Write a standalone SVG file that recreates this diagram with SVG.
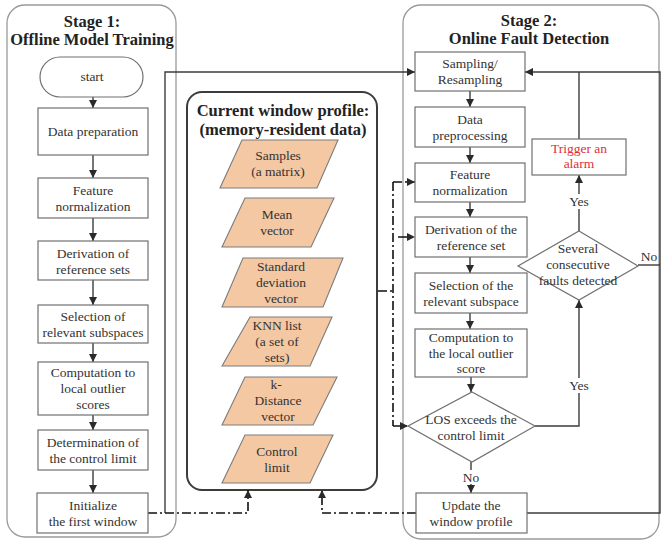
<svg xmlns="http://www.w3.org/2000/svg" width="661" height="544" viewBox="0 0 661 544" font-family="'Liberation Serif','DejaVu Serif',serif">
<defs>
<style>
text{font-family:'Liberation Serif','DejaVu Serif',serif;font-size:13.5px;fill:#333;text-anchor:middle}
.ttl{font-weight:bold;font-size:16.5px;fill:#222}
.red{fill:#e0303c}
.box{fill:#fff;stroke:#707070;stroke-width:1.2}
.cont{fill:none;stroke:#9a9a9a;stroke-width:1.3}
.mid{fill:none;stroke:#3c3c3c;stroke-width:2}
.para{fill:#f4c8a3;stroke:#7c7c7c;stroke-width:1.1}
.ln{fill:none;stroke:#3c3c3c;stroke-width:1.4}
.dd{fill:none;stroke:#111;stroke-width:1.6;stroke-dasharray:9 3 2 3}
.arr{marker-end:url(#ah)}
.lblbg{fill:#fff}
</style>
<marker id="ah" viewBox="0 0 10 10" refX="10" refY="5" markerWidth="8" markerHeight="8" markerUnits="userSpaceOnUse" orient="auto"><path d="M0,0 L10,5 L0,10 z" fill="#2a2a2a"/></marker>
</defs>
<rect width="661" height="544" fill="#fff"/>

<g id="stage1">
<rect class="cont" x="7" y="5" width="169" height="532" rx="18"/>
<text class="ttl" x="92" y="27">Stage 1:</text>
<text class="ttl" x="92" y="45">Offline Model Training</text>
</g>
<g id="stage2">
<rect class="cont" x="403" y="5" width="256" height="534" rx="18"/>
<text class="ttl" x="529" y="26">Stage 2:</text>
<text class="ttl" x="529" y="44">Online Fault Detection</text>
</g>
<g id="profile">
<rect class="mid" x="187" y="92" width="190" height="398" rx="15"/>
<text class="ttl" x="283" y="116">Current window profile:</text>
<text class="ttl" x="283" y="135">(memory-resident data)</text>
</g>

<g id="connectors">
<path class="ln arr" d="M93,97 V108"/>
<path class="ln arr" d="M93,155 V178"/>
<path class="ln arr" d="M93,218 V241"/>
<path class="ln arr" d="M93,280 V305"/>
<path class="ln arr" d="M93,343 V362"/>
<path class="ln arr" d="M93,415 V430"/>
<path class="ln arr" d="M93,470 V493"/>
<path class="ln arr" d="M165,513 V72 H415"/>
<path class="dd arr" d="M148,513 H248 V490"/>
<path class="dd arr" d="M416,513 H322 V490"/>
<path class="dd" d="M378,291 H393"/>
<path class="dd" d="M393,182 V426"/>
<path class="dd arr" d="M393,182 H415"/>
<path class="dd arr" d="M398,237 H415"/>
<path class="dd arr" d="M393,426 H408"/>
<path class="ln arr" d="M470,91 V107"/>
<path class="ln arr" d="M470,147 V163"/>
<path class="ln arr" d="M470,202 V217"/>
<path class="ln arr" d="M470,257 V273"/>
<path class="ln arr" d="M470,313 V329"/>
<path class="ln arr" d="M471,377 V392"/>
<path class="ln arr" d="M471,462 V493"/>
<path class="ln arr" d="M535,426 H579 V300"/>
<path class="ln arr" d="M579,231 V175"/>
<path class="ln" d="M579,139 V72"/>
<path class="ln arr" d="M527,513 H660 V72 H525"/>
<path class="ln" d="M638,265 H660"/>
<rect class="lblbg" x="461" y="470" width="20" height="14"/>
<text x="471" y="482">No</text>
<rect class="lblbg" x="566" y="194" width="26" height="15"/>
<text x="579" y="206">Yes</text>
<rect class="lblbg" x="566" y="378" width="26" height="15"/>
<text x="579" y="390">Yes</text>
<text x="649" y="261">No</text>
</g>

<g id="start"><rect class="box" x="40" y="57" width="103" height="40" rx="20"/><text x="92" y="81">start</text></g>
<g id="s1-prep"><rect class="box" x="38" y="108" width="110" height="47"/><text x="93" y="136">Data preparation</text></g>
<g id="s1-norm"><rect class="box" x="38" y="178" width="110" height="40"/><text x="93" y="195">Feature</text><text x="93" y="211">normalization</text></g>
<g id="s1-ref"><rect class="box" x="38" y="241" width="110" height="39"/><text x="93" y="258">Derivation of</text><text x="93" y="274">reference sets</text></g>
<g id="s1-sel"><rect class="box" x="38" y="305" width="110" height="38"/><text x="93" y="321">Selection of</text><text x="93" y="337">relevant subspaces</text></g>
<g id="s1-comp"><rect class="box" x="38" y="362" width="110" height="53"/><text x="93" y="377">Computation to</text><text x="93" y="393">local outlier</text><text x="93" y="409">scores</text></g>
<g id="s1-det"><rect class="box" x="38" y="430" width="110" height="40"/><text x="93" y="447">Determination of</text><text x="93" y="463">the control limit</text></g>
<g id="s1-init"><rect class="box" x="37" y="493" width="111" height="40"/><text x="93" y="510">Initialize</text><text x="93" y="526">the first window</text></g>

<g id="p-samples"><polygon class="para" points="242,140 338,140 317,188 220,188"/><text x="278" y="160">Samples</text><text x="278" y="176">(a matrix)</text></g>
<g id="p-mean"><polygon class="para" points="245,198 334,198 311,247 222,247"/><text x="277" y="219">Mean</text><text x="277" y="235">vector</text></g>
<g id="p-std"><polygon class="para" points="243,258 343,258 323,307 222,307"/><text x="281" y="271">Standard</text><text x="281" y="287">deviation</text><text x="281" y="303">vector</text></g>
<g id="p-knn"><polygon class="para" points="250,317 332,317 310,366 222,366"/><text x="277" y="330">KNN list</text><text x="277" y="346">(a set of</text><text x="277" y="362">sets)</text></g>
<g id="p-kdist"><polygon class="para" points="245,377 337,377 313,425 222,425"/><text x="276" y="389">k-</text><text x="278" y="405">Distance</text><text x="278" y="421">vector</text></g>
<g id="p-cl"><polygon class="para" points="245,435 333,435 310,483 222,483"/><text x="277" y="456">Control</text><text x="277" y="472">limit</text></g>

<g id="s2-samp"><rect class="box" x="415" y="52" width="110" height="39"/><text x="470" y="68">Sampling/</text><text x="470" y="84">Resampling</text></g>
<g id="s2-pre"><rect class="box" x="415" y="107" width="110" height="40"/><text x="470" y="124">Data</text><text x="470" y="140">preprocessing</text></g>
<g id="s2-norm"><rect class="box" x="415" y="163" width="110" height="39"/><text x="470" y="179">Feature</text><text x="470" y="195">normalization</text></g>
<g id="s2-ref"><rect class="box" x="415" y="217" width="112" height="40"/><text x="471" y="234">Derivation of the</text><text x="471" y="250">reference set</text></g>
<g id="s2-sel"><rect class="box" x="415" y="273" width="112" height="40"/><text x="471" y="290">Selection of the</text><text x="471" y="306">relevant subspace</text></g>
<g id="s2-comp"><rect class="box" x="415" y="329" width="112" height="48"/><text x="471" y="342">Computation to</text><text x="471" y="358">the local outlier</text><text x="471" y="373">score</text></g>
<g id="s2-los"><polygon class="box" points="472,392 535,426 472,462 408,426"/><text x="471" y="424">LOS exceeds the</text><text x="471" y="440">control limit</text></g>
<g id="s2-upd"><rect class="box" x="416" y="493" width="111" height="40"/><text x="471" y="510">Update the</text><text x="471" y="526">window profile</text></g>
<g id="s2-alarm"><rect class="box" x="532" y="139" width="94" height="36"/><text class="red" x="579" y="153">Trigger an</text><text class="red" x="579" y="168">alarm</text></g>
<g id="s2-several"><polygon class="box" points="579,231 638,266 579,300 518,266"/><text x="578" y="253">Several</text><text x="578" y="269">consecutive</text><text x="578" y="285">faults detected</text></g>
</svg>
